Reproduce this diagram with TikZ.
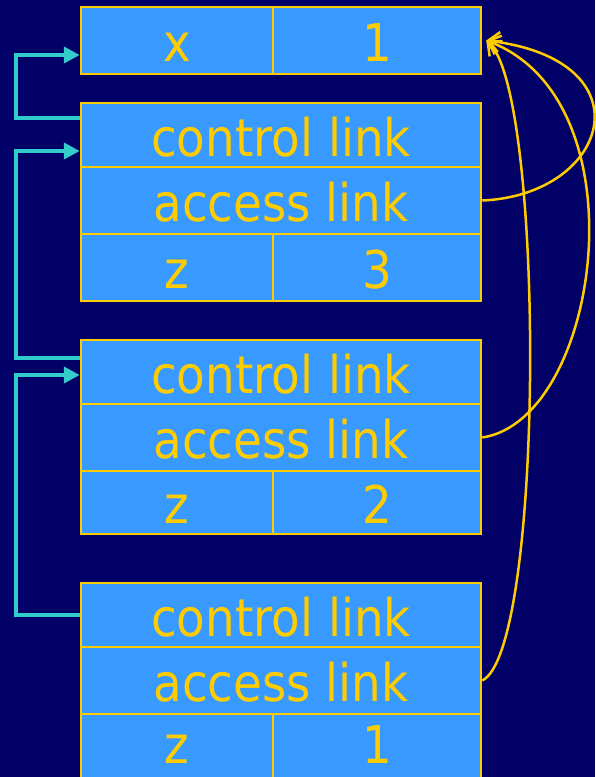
\documentclass[tikz,border=0pt]{standalone}
\usepackage{fontspec}
\setmainfont{DejaVu Sans Condensed}
\usetikzlibrary{arrows.meta}
\definecolor{bgnavy}{RGB}{0,0,102}
\definecolor{cellblue}{RGB}{56,153,255}
\definecolor{gold}{RGB}{255,204,0}
\definecolor{linkteal}{RGB}{51,204,204}
\tikzset{
  cell/.style={draw=gold, fill=cellblue, line width=2.5pt, text=gold, inner sep=0pt,
    text height=42pt, text depth=0pt, font=\fontsize{52}{60}\selectfont},
  wide/.style={cell, minimum width=400pt},
  half/.style={cell, minimum width=192pt},
  halfr/.style={cell, minimum width=208pt},
  lastrow/.style={text height=31pt},
  ctl/.style={linkteal, line width=4pt, -{Triangle[length=16pt,width=16pt]}},
  acc/.style={gold, line width=2.5pt, -{Straight Barb[length=11pt,width=20pt,line width=2.5pt]}}
}
\begin{document}
\begin{tikzpicture}[x=1pt, y=-1pt]
  \fill[bgnavy] (0,0) rectangle (595,777);
  \useasboundingbox (0,0) rectangle (595,777);

  % frame of the outer block: x = 1
  \node[half,  minimum height=67pt] (x0) at (177,40.5) {x};
  \node[halfr, minimum height=67pt] (v0) at (377,40.5) {1};

  % frame with z = 3
  \node[wide, minimum height=64pt] (ctlA) at (281,135)   {control link};
  \node[wide, minimum height=67pt] (accA) at (281,200.5) {access link};
  \node[half,  minimum height=67pt] (zA) at (177,267.5) {z};
  \node[halfr, minimum height=67pt] (vA) at (377,267.5) {3};

  % frame with z = 2
  \node[wide, minimum height=64pt] (ctlB) at (281,372)   {control link};
  \node[wide, minimum height=67pt] (accB) at (281,437.5) {access link};
  \node[half,  minimum height=63pt] (zB) at (177,502.5) {z};
  \node[halfr, minimum height=63pt] (vB) at (377,502.5) {2};

  % frame with z = 1 (its last row runs past the lower edge)
  \node[wide, minimum height=64pt] (ctlC) at (281,615)   {control link};
  \node[wide, minimum height=67pt] (accC) at (281,680.5) {access link};
  \node[half,  lastrow, minimum height=67pt] (zC) at (177,747.5) {z};
  \node[halfr, lastrow, minimum height=67pt] (vC) at (377,747.5) {1};

  % control links
  \draw[ctl] ([yshift=17pt]ctlA.west) -- ++(-64,0) |- ([yshift=-14.5pt]x0.west);
  \draw[ctl] ([yshift=14pt]ctlB.west) -- ++(-64,0) |- ([yshift=-16pt]ctlA.west);
  \draw[ctl] (ctlC.west) -- ++(-64,0) |- ([yshift=-3pt]ctlB.west);

  % access links, all to the outer block
  \coordinate (tip) at ([xshift=4pt]v0.east);
  \draw[acc] (accA.east) .. controls (610,195) and (650,60) .. (tip);
  \draw[acc] (accB.east) .. controls (600,420) and (645,100) .. (tip);
  \draw[acc] (accC.east) .. controls (545,650) and (545,90) .. (tip);
\end{tikzpicture}
\end{document}
